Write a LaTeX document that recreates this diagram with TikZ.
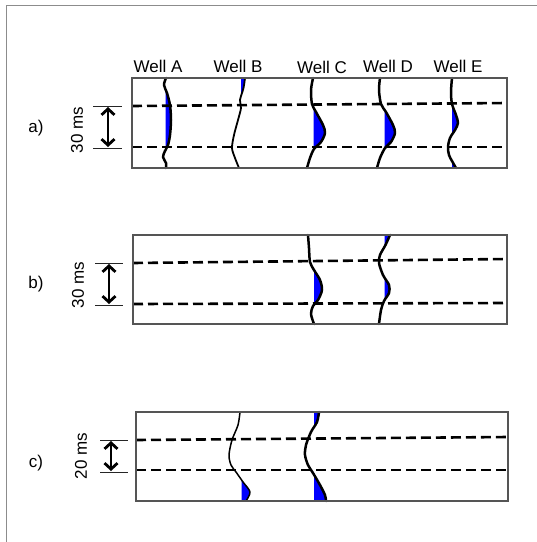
\documentclass[tikz,border=0pt]{standalone}
\usepackage{fontspec}
\setmainfont{Liberation Sans}
\usetikzlibrary{arrows.meta}

\definecolor{framegray}{RGB}{140,140,140}
\definecolor{boxgray}{RGB}{85,85,85}

\tikzset{
  panel/.style={draw=boxgray, line width=1.1pt},
  horizon/.style={line width=2.6pt, dash pattern=on 10pt off 5pt},
  scaletick/.style={line width=0.9pt, draw=black!85},
  span/.style={line width=2.8pt,
    {Straight Barb[length=6pt,width=13pt]}-{Straight Barb[length=6pt,width=13pt]}},
  wiggle/.style={line join=round, line cap=round},
  wellfill/.style={fill=blue},
  lbl/.style={font=\fontsize{17}{20}\selectfont, inner sep=0pt},
}

% #1 baseline x, #2 top y, #3 bottom y, #4 trace points, #5 line width
\newcommand{\welltrace}[5]{%
  \begin{scope}
    \clip (#1+0.7,#2) rectangle (#1+40,#3);
    \fill[wellfill] plot[smooth] coordinates {#4} -- (#1,#3) -- (#1,#2) -- cycle;
  \end{scope}
  \draw[wiggle, line width=#5] plot[smooth] coordinates {#4};
}

\begin{document}
\begin{tikzpicture}[x=1pt, y=-1pt]
  \useasboundingbox (0,0) rectangle (537,542);

  % outer frame (top and left edges)
  \draw[framegray, line width=1pt] (6,542) -- (6,5) -- (537,5);

  % well names
  \node[lbl] (wa) at (158,66) {Well A};
  \node[lbl] (wb) at (238,66) {Well B};
  \node[lbl] (wc) at (322,67) {Well C};
  \node[lbl] (wd) at (388,66) {Well D};
  \node[lbl] (we) at (458,66) {Well E};

  % ---------------- panel a ----------------
  \node[lbl] (la) at (36,128) {a)};
  \welltrace{165}{78}{168}{(166,78) (164,85) (167,93) (170,105) (171,120) (170,135) (168,145) (165,151) (163,157) (166,163) (166,168)}{2.5pt}
  \welltrace{240.5}{78}{168}{(245,78) (243.5,88) (240,100) (241,108) (238,120) (234,135) (232,148) (235,158) (239,168)}{1.8pt}
  \welltrace{313}{78}{168}{(313,78) (311,90) (312,104) (316,112) (323,125) (325,133) (321,142) (314,149) (310,158) (307,168)}{2.5pt}
  \welltrace{384}{78}{168}{(380,78) (379,90) (381,104) (386,112) (393,125) (395,133) (391,142) (385,148) (380,158) (377,168)}{2.5pt}
  \welltrace{451.5}{78}{168}{(452,78) (451,92) (452,104) (456,115) (458,123) (455,130) (450,138) (448,147) (449,155) (452,161) (456,168)}{2.5pt}
  \draw[horizon] (132,106) -- (507,103);
  \draw[horizon] (132,147) -- (507,147);
  \draw[panel] (132,78) rectangle (507,168);
  \coordinate (at1) at (93,106);  \coordinate (at2) at (122,106);
  \coordinate (ab1) at (93,148);  \coordinate (ab2) at (122,148);
  \draw[scaletick] (at1) -- (at2);
  \draw[scaletick] (ab1) -- (ab2);
  \coordinate (aup) at (108,107);  \coordinate (adn) at (108,147);
  \draw[span] (aup) -- (adn);
  \node[lbl, rotate=90] (sa) at (77,130) {30 ms};

  % ---------------- panel b ----------------
  \node[lbl] (lb) at (36,284) {b)};
  \welltrace{313.5}{235}{324}{(308,235) (309,248) (310,262) (314,270) (320,280) (322,290) (318,300) (313,306) (311,314) (314,324)}{2.5pt}
  \welltrace{384}{235}{324}{(390,235) (385.5,245) (380,255) (379,263) (383,275) (389,285) (389,293) (384,301) (381,310) (379,324)}{2.5pt}
  \draw[horizon] (133,263) -- (507,259);
  \draw[horizon] (133,304) -- (507,303);
  \draw[panel] (133,235) rectangle (507,324);
  \coordinate (bt1) at (95,263);  \coordinate (bt2) at (123,263);
  \coordinate (bb1) at (95,305);  \coordinate (bb2) at (123,305);
  \draw[scaletick] (bt1) -- (bt2);
  \draw[scaletick] (bb1) -- (bb2);
  \coordinate (bup) at (109,264);  \coordinate (bdn) at (109,304);
  \draw[span] (bup) -- (bdn);
  \node[lbl, rotate=90] (sb) at (78,285) {30 ms};

  % ---------------- panel c ----------------
  \node[lbl] (lc) at (36,463) {c)};
  \welltrace{241}{412}{501}{(240,412) (238,425) (232,440) (229,455) (231,465) (236,472) (243,482) (250,492) (246,501)}{1.5pt}
  \welltrace{313.5}{412}{501}{(319,412) (317,422) (311,432) (306,445) (305,455) (308,465) (313,473) (320,485) (325,495) (326,501)}{2.5pt}
  \draw[horizon] (136,440) -- (508,437);
  \draw[horizon] (136,470) -- (508,470);
  \draw[panel] (136,412) rectangle (508,501);
  \coordinate (ct1) at (100,440);  \coordinate (ct2) at (128,440);
  \coordinate (cb1) at (100,472);  \coordinate (cb2) at (128,472);
  \draw[scaletick] (ct1) -- (ct2);
  \draw[scaletick] (cb1) -- (cb2);
  \coordinate (cup) at (111,441);  \coordinate (cdn) at (111,471);
  \draw[span] (cup) -- (cdn);
  \node[lbl, rotate=90] (sc) at (81,456) {20 ms};
\end{tikzpicture}
\end{document}
